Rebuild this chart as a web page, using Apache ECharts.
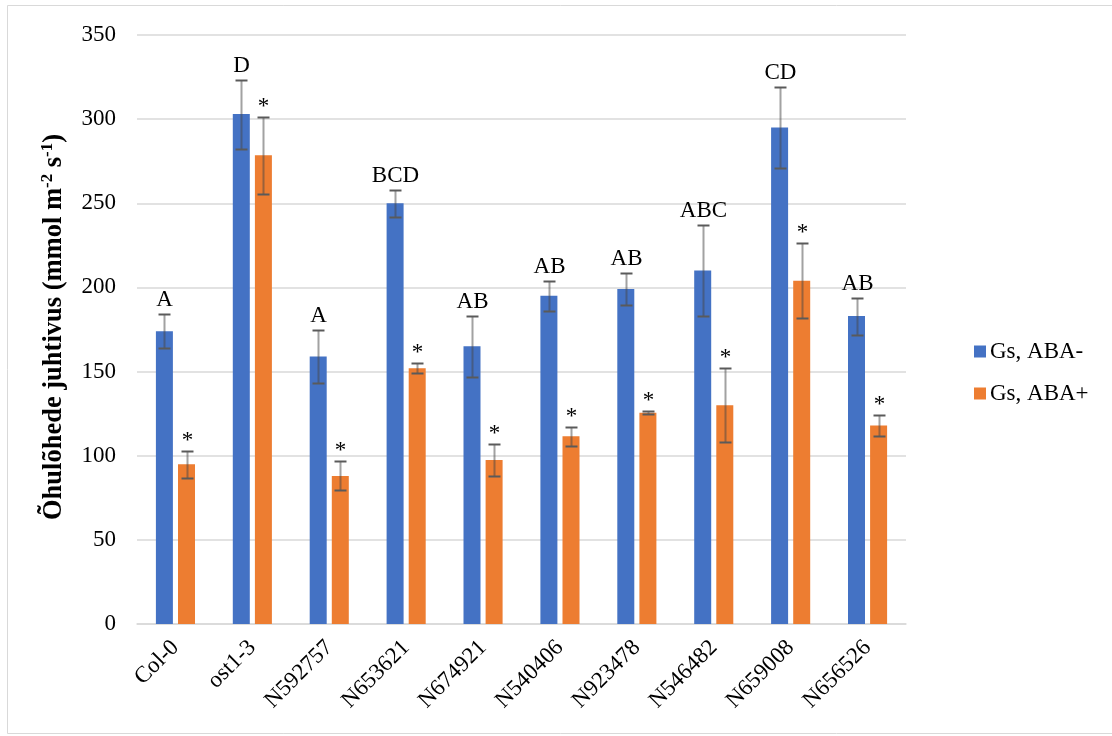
<!DOCTYPE html>
<html>
<head>
<meta charset="utf-8">
<script src="https://cdn.jsdelivr.net/npm/echarts@6/dist/echarts.min.js"></script>
<style>
  html, body { margin: 0; padding: 0; background: #fff; }
  #chart { width: 1112px; height: 736px; }
</style>
</head>
<body>
<div id="chart"></div>
<script>
// Stomatal conductance per line, with and without ABA treatment
const categories = ['Col-0', 'ost1-3', 'N592757', 'N653621', 'N674921', 'N540406', 'N923478', 'N546482', 'N659008', 'N656526'];
const gsMinus    = [174, 303, 159, 250, 165, 195, 199, 210, 295, 183];
const gsMinusErr = [10, 20.5, 16, 8, 18, 9, 9.5, 27, 24, 11];
const gsPlus     = [95, 278.5, 88, 152, 97.5, 111.5, 125.5, 130, 204, 118];
const gsPlusErr  = [8, 23, 8.6, 3, 9.3, 5.7, 1, 22, 22.3, 6];
const groupLetters = ['A', 'D', 'A', 'BCD', 'AB', 'AB', 'AB', 'ABC', 'CD', 'AB'];
const abaMarks     = ['*', '*', '*', '*', '*', '*', '*', '*', '*', '*'];
const yTicks = { min: 0, max: 350, step: 50 };

const FONT = '"Liberation Serif", "Times New Roman", serif';
const BAR_W = 17;
const BAR_GAP = 0.3;
const HALF_SHIFT = (BAR_W * 2 + BAR_W * BAR_GAP) / 2 - BAR_W / 2;

// Error bars with caps, plus the significance mark above each bar
function errorSeries(name, values, errs, marks, shift, labelLift) {
  return {
    type: 'custom',
    name: name + ' err',
    z: 5,
    silent: true,
    data: values.map((v, i) => [i, v, errs[i]]),
    encode: { x: 0, y: 1 },
    renderItem: function (params, api) {
      const i = api.value(0), v = api.value(1), e = api.value(2);
      const top = api.coord([i, v + e]);
      const bot = api.coord([i, v - e]);
      const x = Math.round(top[0] + shift) + 0.5;
      const cap = 6;
      const yt = Math.round(top[1]) + 0.5, yb = Math.round(bot[1]) + 0.5;
      return {
        type: 'group',
        children: [
          { type: 'line', shape: { x1: x, y1: yt, x2: x, y2: yb },
            style: { stroke: 'rgba(70,70,70,0.5)', lineWidth: 2 } },
          { type: 'line', shape: { x1: x - cap, y1: yt, x2: x + cap, y2: yt },
            style: { stroke: '#5a5a5a', lineWidth: 2 } },
          { type: 'line', shape: { x1: x - cap, y1: yb, x2: x + cap, y2: yb },
            style: { stroke: '#5a5a5a', lineWidth: 2 } },
          { type: 'text',
            style: { text: marks[i], x: x, y: yt - labelLift, align: 'center', verticalAlign: 'middle',
                     fill: '#000', font: '23px ' + FONT } }
        ]
      };
    }
  };
}

const chart = echarts.init(document.getElementById('chart'), null, { renderer: 'canvas' });

chart.setOption({
  backgroundColor: '#fff',
  animation: false,
  grid: { left: 137, right: 206, top: 35, bottom: 112, containLabel: false },
  legend: {
    orient: 'vertical',
    left: 969,
    top: 335,
    itemWidth: 12,
    itemHeight: 12,
    itemGap: 19,
    icon: 'rect',
    data: ['Gs, ABA-', 'Gs, ABA+'],
    textStyle: { fontFamily: FONT, fontSize: 23, color: '#000', lineHeight: 23, padding: [0, 0, 0, -1] }
  },
  xAxis: {
    type: 'category',
    data: categories,
    axisLine: { lineStyle: { color: '#d9d9d9', width: 1.5 } },
    axisTick: { show: false },
    axisLabel: { rotate: 45, margin: 20, fontFamily: FONT, fontSize: 23, color: '#000' }
  },
  yAxis: {
    type: 'value',
    min: yTicks.min,
    max: yTicks.max,
    interval: yTicks.step,
    axisLine: { show: false },
    axisTick: { show: false },
    splitLine: { lineStyle: { color: '#d9d9d9', width: 1.5 } },
    axisLabel: { margin: 21, fontFamily: FONT, fontSize: 23, color: '#000' }
  },
  graphic: [
    { type: 'rect', silent: true, z: -10,
      shape: { x: 7.5, y: 5.5, width: 1110, height: 728 },
      style: { fill: 'none', stroke: '#d9d9d9', lineWidth: 1 } },
    { type: 'text', silent: true, x: 54, y: 327, rotation: Math.PI / 2,
      style: {
        text: '{b|Õhulõhede juhtivus (mmol m}{s|-2}{b| s}{s|-1}{b|)}',
        align: 'center', verticalAlign: 'middle',
        rich: {
          b: { fontFamily: FONT, fontWeight: 'bold', fontSize: 26.5, lineHeight: 30, fill: '#000' },
          s: { fontFamily: FONT, fontWeight: 'bold', fontSize: 17, lineHeight: 30, verticalAlign: 'top', fill: '#000', padding: [0, 0, 10, 0] }
        }
      } }
  ],
  series: [
    { name: 'Gs, ABA-', type: 'bar', data: gsMinus, barWidth: BAR_W, barGap: (BAR_GAP * 100) + '%',
      itemStyle: { color: '#4472C4' } },
    { name: 'Gs, ABA+', type: 'bar', data: gsPlus, barWidth: BAR_W,
      itemStyle: { color: '#ED7D31' } },
    errorSeries('Gs, ABA-', gsMinus, gsMinusErr, groupLetters, -HALF_SHIFT, 15),
    errorSeries('Gs, ABA+', gsPlus, gsPlusErr, abaMarks, HALF_SHIFT, 11)
  ]
});
</script>
</body>
</html>
